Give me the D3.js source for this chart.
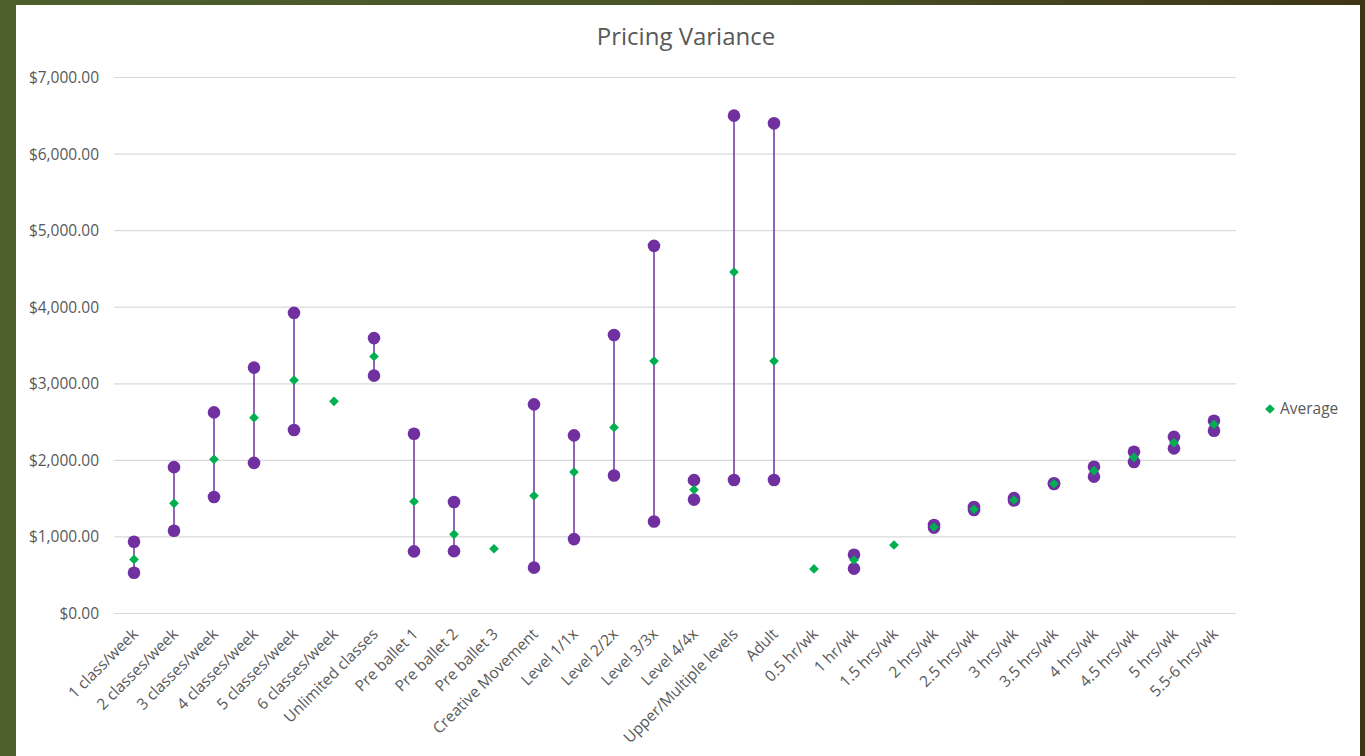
<!DOCTYPE html>
<html>
<head>
<meta charset="utf-8">
<script src="https://cdn.jsdelivr.net/npm/d3@7"></script>
<style>
  html, body { margin: 0; padding: 0; }
  body {
    width: 1365px; height: 756px; overflow: hidden;
    background: linear-gradient(90deg, #4d5f2c 0%, #4a5427 50%, #3e3517 100%);
  }
  #container { position: absolute; left: 0; top: 0; }
  text { font-family: "Open Sans", "Noto Sans", sans-serif; fill: #595959; }
</style>
</head>
<body>
<div id="container"></div>
<script>
//Chart data
const categories = ['1 class/week', '2 classes/week', '3 classes/week', '4 classes/week', '5 classes/week',
  '6 classes/week', 'Unlimited classes', 'Pre ballet 1', 'Pre ballet 2', 'Pre ballet 3', 'Creative Movement',
  'Level 1/1x', 'Level 2/2x', 'Level 3/3x', 'Level 4/4x', 'Upper/Multiple levels', 'Adult',
  '0.5 hr/wk', '1 hr/wk', '1.5 hrs/wk', '2 hrs/wk', '2.5 hrs/wk', '3 hrs/wk', '3.5 hrs/wk',
  '4 hrs/wk', '4.5 hrs/wk', '5 hrs/wk', '5.5-6 hrs/wk'];

const maxValues = [930, 1905, 2620, 3205, 3920, null, 3590, 2340, 1450, null, 2725,
  2320, 3630, 4795, 1735, 6495, 6395, null, 760, null, 1150, 1385, 1500, 1695,
  1910, 2105, 2300, 2510];

const avgValues = [700, 1432, 2007, 2551, 3040, 2765, 3350, 1456, 1028, 839, 1531,
  1840, 2424, 3290, 1611, 4452, 3290, 575, 692, 888, 1123, 1354, 1476, 1688,
  1859, 2033, 2225, 2464];

const minValues = [525, 1075, 1515, 1960, 2390, null, 3100, 805, 808, null, 592,
  965, 1795, 1194, 1481, 1737, 1737, null, 580, null, 1115, 1345, 1470, 1685,
  1781, 1972, 2150, 2381];

const yTicks = [0, 1000, 2000, 3000, 4000, 5000, 6000, 7000];

const dataset = categories.map((c, i) => ({
  name: c,
  max: maxValues[i],
  avg: avgValues[i],
  min: minValues[i]
}));

const width = 1365;
const height = 756;

const padding = { top: 77, right: 131, bottom: 143, left: 114 };

const svg = d3.select('#container').append('svg')
  .attr('width', width)
  .attr('height', height);

//White chart panel
svg.append('rect')
  .attr('x', 16)
  .attr('y', 5)
  .attr('width', 1344)
  .attr('height', 760)
  .attr('fill', '#ffffff');

//Title
svg.append('text')
  .attr('x', 686)
  .attr('y', 45)
  .attr('text-anchor', 'middle')
  .style('font-size', '24px')
  .text('Pricing Variance');

//X-Scale
const xScale = d3.scaleBand()
  .domain(categories)
  .range([padding.left, width - padding.right]);

const cx = d => xScale(d) + xScale.bandwidth() / 2;

//Y-Scale
const yScale = d3.scaleLinear()
  .domain([0, 7000])
  .range([height - padding.bottom, padding.top]);

//Gridlines + Y-Axis labels
const yAxis = svg.append('g')
  .attr('transform', 'translate(' + padding.left + ',0)')
  .call(d3.axisLeft(yScale)
    .tickValues(yTicks)
    .tickSize(-(width - padding.left - padding.right + 2))
    .tickPadding(15)
    .tickFormat(d => '$' + d3.format(',.2f')(d)));

yAxis.select('.domain').remove();
yAxis.selectAll('line').attr('stroke', '#d9d9d9').attr('stroke-width', 1.2);
yAxis.selectAll('text')
  .attr('fill', '#595959')
  .style('font-size', '15.5px')
  .attr('dy', '0.35em');

//X-Axis labels, rotated
const xAxis = svg.append('g')
  .attr('transform', 'translate(0,' + (height - padding.bottom) + ')')
  .call(d3.axisBottom(xScale).tickSize(0));

xAxis.select('.domain').remove();
xAxis.selectAll('text')
  .attr('fill', '#595959')
  .style('font-size', '15.5px')
  .attr('text-anchor', 'end')
  .attr('y', 0)
  .attr('dy', 0)
  .attr('transform', 'translate(5,22) rotate(-45)');

//High-low lines
svg.append('g')
  .selectAll('line')
  .data(dataset.filter(d => d.max !== null && d.min !== null))
  .enter()
  .append('line')
  .attr('x1', d => cx(d.name))
  .attr('x2', d => cx(d.name))
  .attr('y1', d => yScale(d.max))
  .attr('y2', d => yScale(d.min))
  .attr('stroke', '#7030a0')
  .attr('stroke-width', 1.5);

//Max and min circles
const points = [];
dataset.forEach(d => {
  if (d.max !== null) points.push({ name: d.name, v: d.max });
  if (d.min !== null) points.push({ name: d.name, v: d.min });
});

svg.append('g')
  .selectAll('circle')
  .data(points)
  .enter()
  .append('circle')
  .attr('cx', d => cx(d.name))
  .attr('cy', d => yScale(d.v))
  .attr('r', 6.3)
  .attr('fill', '#7030a0');

//Average diamonds
const diamond = d3.symbol().type(d3.symbolDiamond2).size(60);

svg.append('g')
  .selectAll('path')
  .data(dataset)
  .enter()
  .append('path')
  .attr('d', diamond)
  .attr('transform', d => 'translate(' + cx(d.name) + ',' + yScale(d.avg) + ')')
  .attr('fill', '#00b050');

//Legend
svg.append('path')
  .attr('d', diamond)
  .attr('transform', 'translate(1270,409)')
  .attr('fill', '#00b050');

svg.append('text')
  .attr('x', 1280)
  .attr('y', 409)
  .attr('dy', '0.35em')
  .style('font-size', '15.5px')
  .text('Average');
</script>
</body>
</html>
